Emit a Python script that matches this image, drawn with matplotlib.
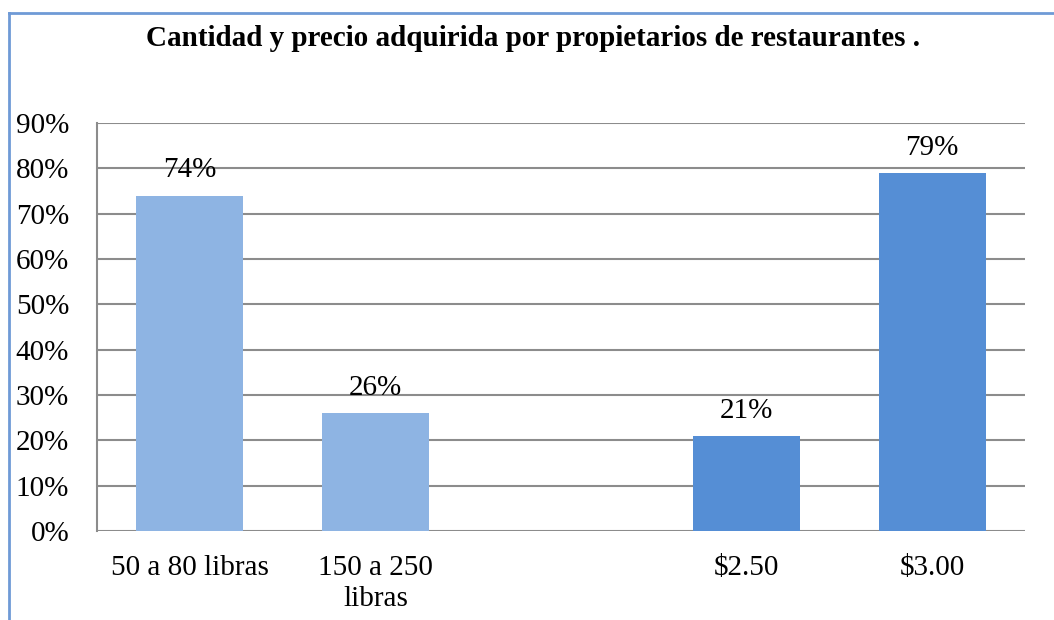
import matplotlib
matplotlib.use("Agg")
import matplotlib.pyplot as plt
from matplotlib.lines import Line2D

title = "Cantidad y precio adquirida por propietarios de restaurantes ."
categories = ["50 a 80 libras", "150 a 250\nlibras", "", "$2.50", "$3.00"]
values = [74, 26, None, 21, 79]
colors_list = ["#8EB4E3", "#8EB4E3", None, "#558ED5", "#558ED5"]
yticks = [0, 10, 20, 30, 40, 50, 60, 70, 80, 90]
ytick_labels = [f"{v}%" for v in yticks]

plt.rcParams['font.family'] = ['Liberation Serif', 'DejaVu Serif']
FS = 21

fig = plt.figure(figsize=(10.54, 6.2), dpi=100)
ax = fig.add_axes([97/1054, 1-531/620, (1025-97)/1054, (531-123)/620])

xs = list(range(len(categories)))
for x, v, c in zip(xs, values, colors_list):
    if v is None:
        continue
    ax.bar(x, v, width=0.575, color=c, zorder=3)
    ax.annotate(f"{v}%", (x, v), xytext=(0, 13), textcoords="offset points",
                ha="center", va="baseline", fontsize=FS, color="black", zorder=4)

ax.set_xlim(-0.5, 4.5)
ax.set_ylim(0, 90)
ax.set_yticks(yticks)
ax.set_yticklabels(ytick_labels, fontsize=FS)
ax.set_xticks(xs)
ax.set_xticklabels(categories, fontsize=FS, linespacing=1.25)
ax.tick_params(axis='y', length=0, pad=20)
ax.tick_params(axis='x', length=0, pad=17)
ax.yaxis.grid(True, color="#8C8C8C", linewidth=1.5, zorder=0)
for s in ["top", "right", "bottom"]:
    ax.spines[s].set_visible(False)
ax.spines["left"].set_color("#8C8C8C")
ax.spines["left"].set_linewidth(1.5)

fig.text(533/1054, 1-38/620, title, ha="center", va="center",
         fontsize=FS, fontweight="bold")

# outer border (top and left visible)
fig.add_artist(Line2D([9/1054, 9/1054], [0, 1-13/620], transform=fig.transFigure,
                      color="#6F9AD6", linewidth=2))
fig.add_artist(Line2D([9/1054, 1], [1-13/620, 1-13/620], transform=fig.transFigure,
                      color="#6F9AD6", linewidth=2))

fig.savefig("out.png", dpi=100)
